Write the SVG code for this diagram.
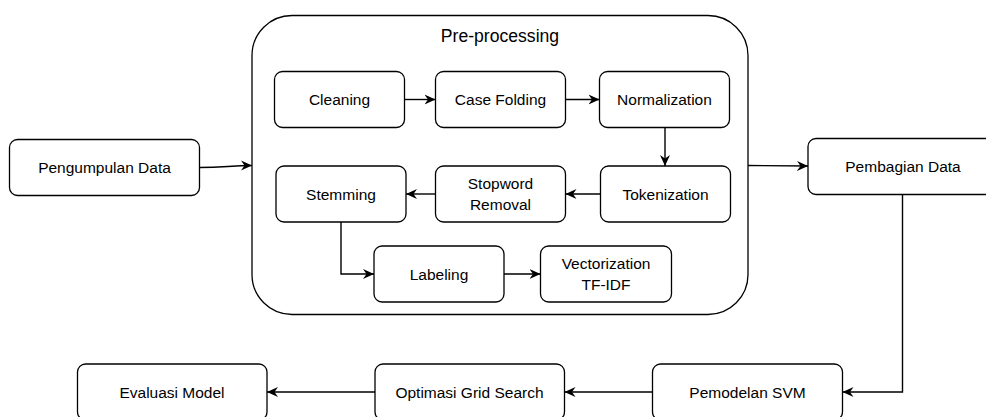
<svg xmlns="http://www.w3.org/2000/svg" width="986" height="417" viewBox="0 0 986 417">
<style>
.box{fill:#fff;stroke:#000;stroke-width:1.3}
.t{font-family:"Liberation Sans",Arial,sans-serif;font-size:15.5px;fill:#000;text-anchor:middle}
.title{font-family:"Liberation Sans",Arial,sans-serif;font-size:17.6px;fill:#000;text-anchor:middle}
.c{fill:none;stroke:#000;stroke-width:1.4;marker-end:url(#arr)}
</style>
<defs>
<marker id="arr" markerUnits="userSpaceOnUse" markerWidth="13" markerHeight="12" refX="11" refY="6" orient="auto">
<path d="M0,1 L11,6 L0,11 L3.5,6 Z" fill="#000"/>
</marker>
</defs>
<rect width="986" height="417" fill="#fff"/>
<g id="preprocessing">
<rect class="box" x="252" y="15.5" width="496" height="299" rx="40" ry="40"/>
<text class="title" x="500" y="42">Pre-processing</text>
</g>
<g id="pengumpulan">
<rect class="box" x="9.5" y="139.5" width="190" height="56" rx="8"/>
<text class="t" x="104.5" y="173">Pengumpulan Data</text>
</g>
<g id="cleaning">
<rect class="box" x="274.5" y="71.5" width="130" height="56" rx="8"/>
<text class="t" x="339.5" y="105">Cleaning</text>
</g>
<g id="casefolding">
<rect class="box" x="435.5" y="71.5" width="130" height="56" rx="8"/>
<text class="t" x="500.5" y="105">Case Folding</text>
</g>
<g id="normalization">
<rect class="box" x="599.5" y="71.5" width="130" height="56" rx="8"/>
<text class="t" x="664.5" y="105">Normalization</text>
</g>
<g id="tokenization">
<rect class="box" x="600.5" y="166" width="130" height="56" rx="8"/>
<text class="t" x="665.5" y="199.5">Tokenization</text>
</g>
<g id="stopword">
<rect class="box" x="435.5" y="166" width="130" height="56" rx="8"/>
<text class="t" x="500.5" y="189">Stopword</text>
<text class="t" x="500.5" y="210">Removal</text>
</g>
<g id="stemming">
<rect class="box" x="276" y="166" width="130" height="56" rx="8"/>
<text class="t" x="341" y="199.5">Stemming</text>
</g>
<g id="labeling">
<rect class="box" x="374" y="246" width="130" height="56" rx="8"/>
<text class="t" x="439" y="279.5">Labeling</text>
</g>
<g id="vectorization">
<rect class="box" x="540.5" y="246" width="131" height="56" rx="8"/>
<text class="t" x="606" y="269">Vectorization</text>
<text class="t" x="606" y="290">TF-IDF</text>
</g>
<g id="pembagian">
<rect class="box" x="808" y="138.5" width="190" height="56" rx="8"/>
<text class="t" x="903" y="172">Pembagian Data</text>
</g>
<g id="pemodelan">
<rect class="box" x="652.5" y="364" width="190" height="56" rx="8"/>
<text class="t" x="747.5" y="397.5">Pemodelan SVM</text>
</g>
<g id="optimasi">
<rect class="box" x="375" y="364" width="189.5" height="56" rx="8"/>
<text class="t" x="469.5" y="397.5">Optimasi Grid Search</text>
</g>
<g id="evaluasi">
<rect class="box" x="77.5" y="364" width="189.5" height="56" rx="8"/>
<text class="t" x="172" y="397.5">Evaluasi Model</text>
</g>
<g id="connectors">
<path class="c" d="M199.5,167.5 C225,167.5 230,165.5 252,165.5"/>
<path class="c" d="M404.5,99.5 L435.5,99.5"/>
<path class="c" d="M565.5,99.5 L599.5,99.5"/>
<path class="c" d="M665,127.5 L665,166"/>
<path class="c" d="M600.5,194 L565.5,194"/>
<path class="c" d="M435.5,194 L406,194"/>
<path class="c" d="M341,222 L341,274 L374,274"/>
<path class="c" d="M504,274 L540.5,274"/>
<path class="c" d="M748,165.5 L808,166"/>
<path class="c" d="M902.5,194.5 L902.5,392 L842.5,392"/>
<path class="c" d="M652.5,392 L564.5,392"/>
<path class="c" d="M375,392 L267,392"/>
</g>
</svg>
